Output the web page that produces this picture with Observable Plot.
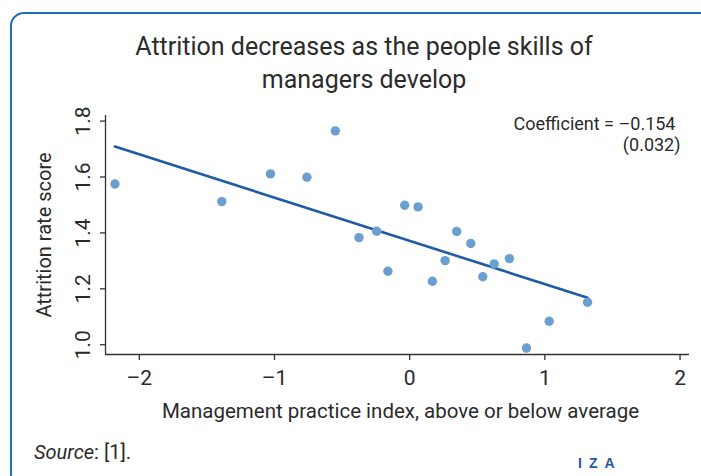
<!DOCTYPE html>
<html>
<head>
<meta charset="utf-8">
<script src="https://cdn.jsdelivr.net/npm/d3@7"></script>
<script src="https://cdn.jsdelivr.net/npm/@observablehq/plot@0.6"></script>
<style>
  html, body { margin: 0; padding: 0; background: #fff; }
  #wrap { position: relative; width: 701px; height: 476px; overflow: hidden;
    font-family: "Roboto", sans-serif; color: #2b2b2b; }
  #border { position: absolute; left: 10px; top: 12px; width: 720px; height: 476px;
    border: 2px solid #1f6cbf; border-radius: 14px; box-sizing: border-box; }
  #title { position: absolute; left: 0; width: 728px; top: 30px; text-align: center;
    font-size: 25px; line-height: 33px; color: #2b2b2b; }
  #plot { position: absolute; left: 0; top: 0; }
  #source { position: absolute; left: 34px; top: 441px; font-size: 20px; line-height: 23px; color: #2b2b2b; }
  #iza { position: absolute; left: 578px; top: 455px; font-size: 14px; font-weight: bold;
    letter-spacing: 7px; color: #1f5aa6; font-family: "Liberation Sans", sans-serif; }
</style>
</head>
<body>
<div id="wrap">
  <div id="border"></div>
  <div id="plot"></div>
  <div id="title">Attrition decreases as the people skills of<br>managers develop</div>
  <div id="source"><i>Source</i>: [1].</div>
  <div id="iza">IZA</div>
</div>
<script>
// Data
const mgmtIndex = [-2.18, -1.39, -1.03, -0.76, -0.55, -0.375, -0.244, -0.161, -0.037, 0.062,
                   0.168, 0.262, 0.348, 0.452, 0.541, 0.625, 0.738, 0.864, 1.032, 1.316];
const attrition = [1.575, 1.512, 1.611, 1.599, 1.765, 1.383, 1.406, 1.263, 1.499, 1.493,
                   1.227, 1.301, 1.405, 1.362, 1.243, 1.289, 1.308, 0.988, 1.084, 1.152];
const fitX = [-2.18, 1.316];
const fitY = [1.709, 1.168];
const xTicks = [-2, -1, 0, 1, 2];
const yTicks = [1.0, 1.2, 1.4, 1.6, 1.8];
const annotLines = ["Coefficient = \u20130.154", "(0.032)"];

const points = mgmtIndex.map((x, i) => ({x, y: attrition[i]}));
const fit = fitX.map((x, i) => ({x, y: fitY[i]}));

const xDom = [-2.25, 2.07];
const yDom = [0.965, 1.82];
const fmtX = d => d < 0 ? "\u2013" + Math.abs(d) : String(d);
const font = "Roboto, sans-serif";

const chart = Plot.plot({
  width: 701,
  height: 476,
  marginLeft: 105,
  marginRight: 12,
  marginTop: 115,
  marginBottom: 122,
  style: { fontFamily: font, color: "#2b2b2b", background: "transparent", overflow: "visible" },
  x: { type: "linear", domain: xDom, axis: null },
  y: { type: "linear", domain: yDom, axis: null },
  marks: [
    Plot.ruleX([xDom[0]], { y1: yDom[0], y2: yDom[1], stroke: "#333", strokeWidth: 1.3 }),
    Plot.ruleY([yDom[0]], { x1: xDom[0], x2: xDom[1], stroke: "#333", strokeWidth: 1.3 }),
    Plot.axisX({ ticks: xTicks, tickSize: 6, tickFormat: fmtX, fontSize: 21, tickPadding: 10, stroke: "#333", strokeWidth: 1.3, label: null }),
    Plot.axisY({ ticks: yTicks, tickSize: 5, tickFormat: () => "", stroke: "#333", strokeWidth: 1.3, label: null }),
    Plot.text(yTicks, { x: xDom[0], y: d => d, text: d => d.toFixed(1), rotate: -90, dx: -22, fontSize: 21, fill: "#2b2b2b" }),
    Plot.text(["Attrition rate score"], { frameAnchor: "left", textAnchor: "middle", dx: -61, rotate: -90, fontSize: 20, fill: "#2b2b2b" }),
    Plot.text(["Management practice index, above or below average"], { frameAnchor: "bottom", dx: 3, dy: 63, fontSize: 20.5, fill: "#2b2b2b" }),
    Plot.text([annotLines[0]], { frameAnchor: "top-right", dx: -14, dy: 2, textAnchor: "end", fontSize: 18, fill: "#2b2b2b" }),
    Plot.text([annotLines[1]], { frameAnchor: "top-right", dx: -9, dy: 23, textAnchor: "end", fontSize: 18, fill: "#2b2b2b" }),
    Plot.line(fit, { x: "x", y: "y", stroke: "#1f5aa6", strokeWidth: 2.6 }),
    Plot.dot(points, { x: "x", y: "y", r: 4.7, fill: "#6a9fcf", stroke: "none" })
  ]
});
document.getElementById("plot").appendChild(chart);
</script>
</body>
</html>
